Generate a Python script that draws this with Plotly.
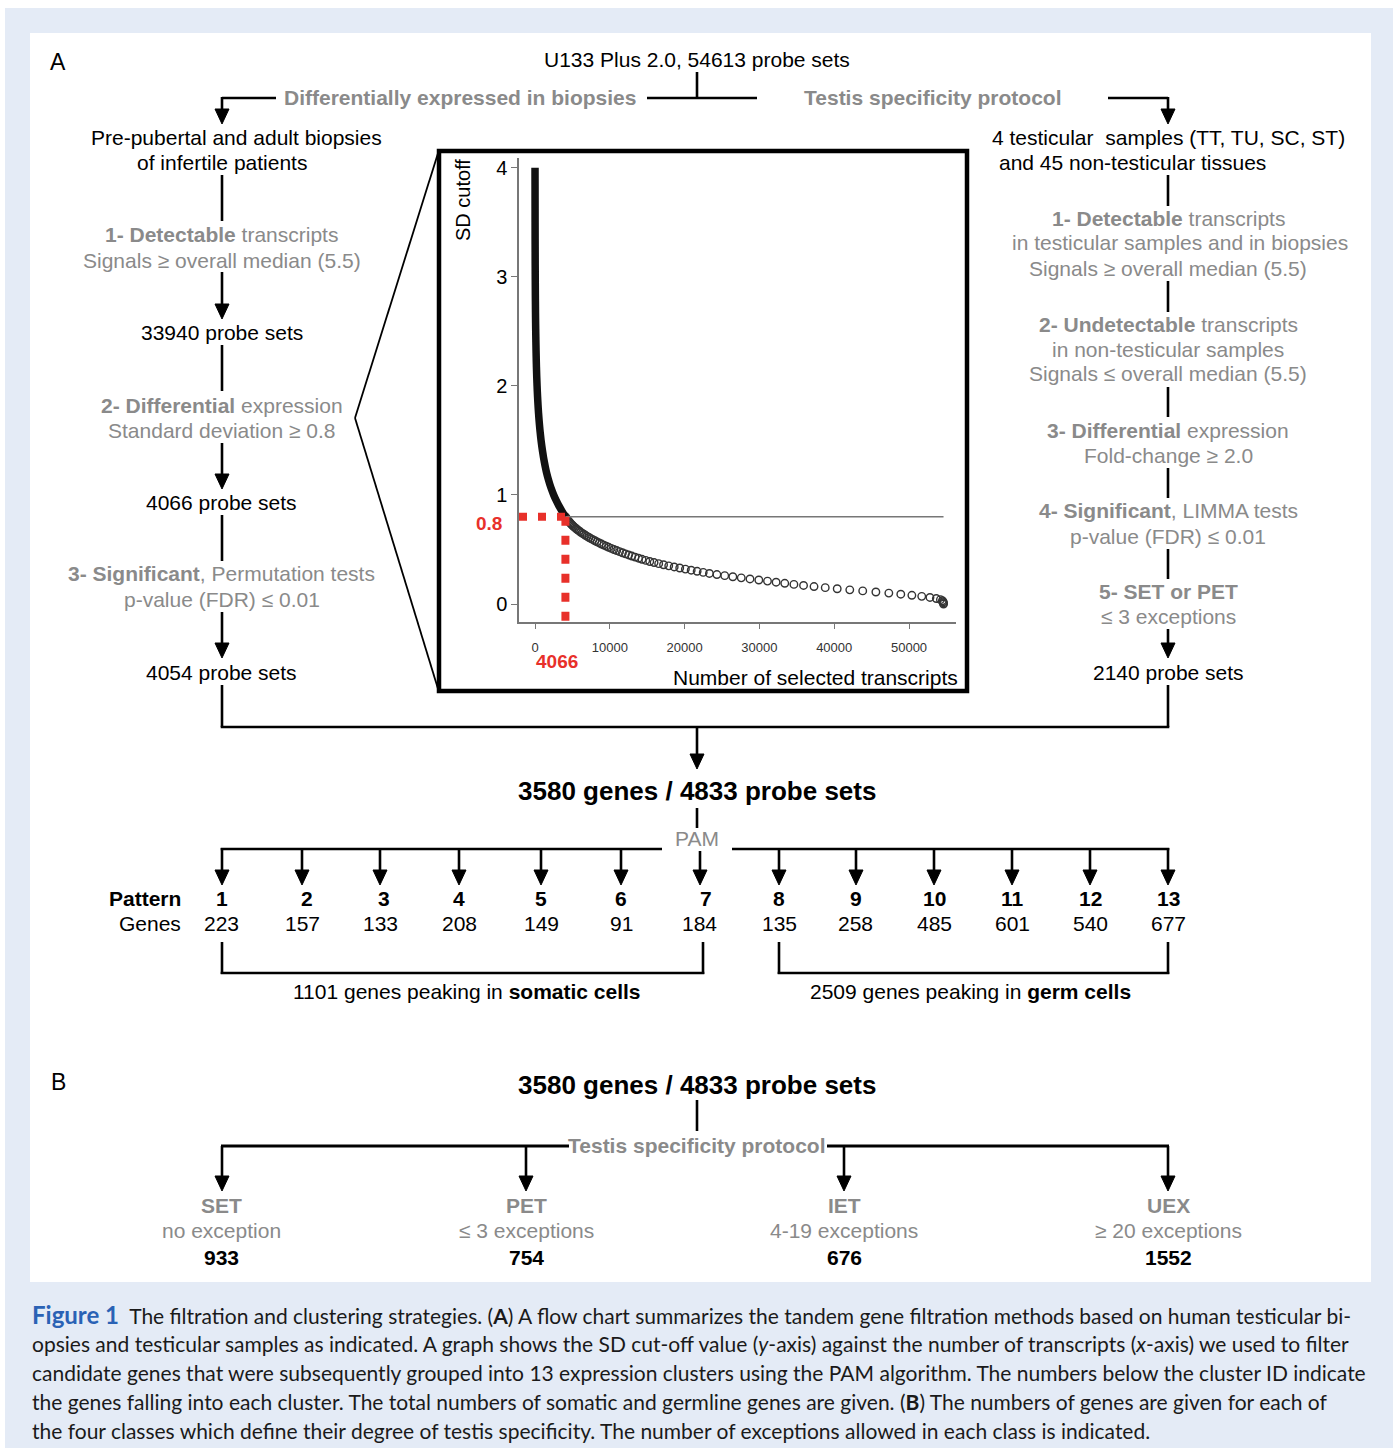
import plotly.graph_objects as go

W, H = 1393, 1456

# ------------------------------------------------------------------ data
total_probe_sets = 54613
sd_threshold = 0.8
n_at_threshold = 4066

# SD cut-off (0.01 steps, low range) and number of transcripts kept
sd_tail = [0.00, 0.01, 0.02, 0.03, 0.04, 0.05, 0.06, 0.07, 0.08, 0.09,
           0.10, 0.11, 0.12, 0.13, 0.14, 0.15, 0.16, 0.17, 0.18, 0.19,
           0.20, 0.21, 0.22, 0.23, 0.24, 0.25, 0.26, 0.27, 0.28, 0.29,
           0.30, 0.31, 0.32, 0.33, 0.34, 0.35, 0.36, 0.37, 0.38, 0.39,
           0.40, 0.41, 0.42, 0.43, 0.44, 0.45, 0.46, 0.47, 0.48, 0.49,
           0.50, 0.51, 0.52, 0.53, 0.54, 0.55, 0.56, 0.57, 0.58, 0.59,
           0.60, 0.61, 0.62, 0.63, 0.64, 0.65, 0.66, 0.67, 0.68, 0.69,
           0.70, 0.71, 0.72, 0.73, 0.74, 0.75, 0.76, 0.77, 0.78, 0.79, 0.80]
n_tail = [54613, 54605, 54570, 54460, 54200, 53650, 52800, 51700, 50380, 48900,
          47300, 45570, 43810, 42080, 40400, 38800, 37300, 35900, 34610, 33390,
          32230, 31080, 29920, 28740, 27572, 26447, 25362, 24317, 23317, 22487,
          21675, 20881, 20105, 19347, 18607, 17877, 17185, 16532, 15917, 15340,
          14802, 14302, 13837, 13384, 12943, 12514, 12097, 11692, 11300, 10920,
          10552, 10196, 9852, 9520, 9200, 8890, 8589, 8298, 8015, 7742,
          7478, 7224, 6978, 6742, 6515, 6297, 6088, 5888, 5698, 5517,
          5345, 5183, 5029, 4885, 4750, 4622, 4500, 4384, 4272, 4166, 4066]

# SD cut-off (0.05 steps, steep range)
sd_steep = [0.80, 0.85, 0.90, 0.95, 1.00, 1.05, 1.10, 1.15, 1.20, 1.25, 1.30,
            1.35, 1.40, 1.45, 1.50, 1.55, 1.60, 1.65, 1.70, 1.75, 1.80,
            1.85, 1.90, 1.95, 2.00, 2.05, 2.10, 2.15, 2.20, 2.25, 2.30,
            2.35, 2.40, 2.45, 2.50, 2.55, 2.60, 2.65, 2.70, 2.75, 2.80,
            2.85, 2.90, 2.95, 3.00, 3.05, 3.10, 3.15, 3.20, 3.25, 3.30,
            3.35, 3.40, 3.45, 3.50, 3.55, 3.60, 3.65, 3.70, 3.75, 3.80,
            3.85, 3.90, 3.95, 4.00]
n_steep = [4066, 3620, 3200, 2830, 2500, 2220, 1970, 1750, 1560, 1400, 1255,
           1125, 1010, 905, 812, 730, 655, 588, 528, 474, 426,
           383, 344, 309, 278, 250, 225, 202, 182, 164, 148,
           133, 120, 108, 97, 87, 78, 70, 63, 57, 51,
           46, 41, 37, 33, 30, 27, 24, 22, 20, 18,
           16, 14, 13, 12, 11, 10, 9, 8, 7, 6,
           5, 4, 3, 2]

x_ticks = [0, 10000, 20000, 30000, 40000, 50000]
y_ticks = [0, 1, 2, 3, 4]

left_counts = [33940, 4066, 4054]
right_count = 2140
merged_genes, merged_probes = 3580, 4833

pattern_ids = ["1", "2", "3", "4", "5", "6", "7", "8", "9", "10", "11", "12", "13"]
pattern_genes = [223, 157, 133, 208, 149, 91, 184, 135, 258, 485, 601, 540, 677]
somatic_total, germ_total = 1101, 2509

class_names = ["SET", "PET", "IET", "UEX"]
class_rules = ["no exception", "≤ 3 exceptions", "4-19 exceptions", "≥ 20 exceptions"]
class_counts = [933, 754, 676, 1552]

# ------------------------------------------------------------------ layout helpers
FONT = "Liberation Sans, Arial, sans-serif"
GRAY = "#8a8a8a"
RED = "#e8302a"


def X(px):
    return px / W


def Y(py):
    return 1 - py / H


shapes = []
annotations = []


def seg(x0, y0, x1, y1, width=2.6, color="black", dash=None):
    ln = dict(color=color, width=width)
    if dash:
        ln["dash"] = dash
    shapes.append(dict(type="line", xref="paper", yref="paper",
                       x0=X(x0), y0=Y(y0), x1=X(x1), y1=Y(y1), line=ln))


def arrow(x, y0, y1, hw=14, hh=15):
    seg(x, y0, x, y1 - hh + 2)
    path = (f"M {X(x - hw / 2)},{Y(y1 - hh)} L {X(x + hw / 2)},{Y(y1 - hh)} "
            f"L {X(x)},{Y(y1)} Z")
    shapes.append(dict(type="path", xref="paper", yref="paper", path=path,
                       fillcolor="black", line=dict(color="black", width=1)))


def txt(px, py, s, size=21, color="black", anchor="center", angle=0, family=FONT):
    annotations.append(dict(xref="paper", yref="paper", x=X(px), y=Y(py), text=s,
                            showarrow=False, xanchor=anchor, yanchor="middle",
                            textangle=angle,
                            font=dict(size=size, color=color, family=family)))


def rect(x0, y0, x1, y1, fill=None, lw=0, lc="black", layer="below"):
    shapes.append(dict(type="rect", xref="paper", yref="paper", layer=layer,
                       x0=X(x0), y0=Y(y1), x1=X(x1), y1=Y(y0),
                       fillcolor=fill if fill else "rgba(0,0,0,0)",
                       line=dict(width=lw, color=lc)))


# ------------------------------------------------------------------ backgrounds
rect(5, 8, 1393, 1448, fill="#e4ebf6")
rect(30, 33, 1371, 1282, fill="white")

# ------------------------------------------------------------------ panel A top
txt(58, 62, "A", size=23)
txt(697, 60, f"U133 Plus 2.0, {total_probe_sets} probe sets")
seg(697, 72, 697, 98)
seg(647, 98, 757, 98)
txt(460, 98, "<b>Differentially expressed in biopsies</b>", color=GRAY)
txt(933, 98, "<b>Testis specificity protocol</b>", color=GRAY)
seg(222, 98, 276, 98)
arrow(222, 97, 124)
seg(1108, 98, 1168, 98)
arrow(1168, 97, 124)

# left column
LX = 222
txt(LX + 14, 137, "Pre-pubertal and adult biopsies")
txt(LX, 162, "of infertile patients")
seg(LX, 175, LX, 221)
txt(LX, 235, "<b>1- Detectable</b> transcripts", color=GRAY)
txt(LX, 260, "Signals ≥ overall median (5.5)", color=GRAY)
arrow(LX, 272, 319)
txt(LX, 333, f"{left_counts[0]} probe sets")
seg(LX, 345, LX, 391)
txt(LX, 405, "<b>2- Differential</b> expression", color=GRAY)
txt(LX, 430, "Standard deviation ≥ 0.8", color=GRAY)
arrow(LX, 443, 489)
txt(LX, 502, f"{left_counts[1]} probe sets")
seg(LX, 515, LX, 561)
txt(LX, 574, "<b>3- Significant</b>, Permutation tests", color=GRAY)
txt(LX, 599, "p-value (FDR) ≤ 0.01", color=GRAY)
arrow(LX, 612, 658)
txt(LX, 672, f"{left_counts[2]} probe sets")

# right column
RX = 1168
txt(RX, 137, "4 testicular  samples (TT, TU, SC, ST)")
txt(997, 162, "and 45 non-testicular tissues", anchor="left")
seg(RX, 175, RX, 206)
txt(RX, 218, "<b>1- Detectable</b> transcripts", color=GRAY)
txt(RX + 12, 243, "in testicular samples and in biopsies", color=GRAY)
txt(RX, 268, "Signals ≥ overall median (5.5)", color=GRAY)
seg(RX, 281, RX, 312)
txt(RX, 324, "<b>2- Undetectable</b> transcripts", color=GRAY)
txt(RX, 349, "in non-testicular samples", color=GRAY)
txt(RX, 374, "Signals ≤ overall median (5.5)", color=GRAY)
seg(RX, 387, RX, 417)
txt(RX, 430, "<b>3- Differential</b> expression", color=GRAY)
txt(RX, 455, "Fold-change ≥ 2.0", color=GRAY)
seg(RX, 468, RX, 498)
txt(RX, 511, "<b>4- Significant</b>, LIMMA tests", color=GRAY)
txt(RX, 536, "p-value (FDR) ≤ 0.01", color=GRAY)
seg(RX, 549, RX, 579)
txt(RX, 591, "<b>5- SET or PET</b>", color=GRAY)
txt(RX, 616, "≤ 3 exceptions", color=GRAY)
arrow(RX, 629, 658)
txt(RX, 672, f"{right_count} probe sets")

# merge
seg(LX, 685, LX, 727)
seg(RX, 685, RX, 727)
seg(LX - 1.3, 727, RX + 1.3, 727)
arrow(697, 727, 769)
txt(697, 791, f"<b>{merged_genes} genes / {merged_probes} probe sets</b>", size=26)
seg(697, 808, 697, 828)
txt(697, 839, "PAM", color=GRAY)

# PAM clusters
arrow_x = [222, 302, 380, 459, 541, 621, 700, 779, 856, 934, 1012, 1090, 1168]
id_x = [222, 307, 384, 459, 541, 621, 706, 779, 856, 934, 1012, 1090, 1168]
seg(LX - 1.3, 849, 662, 849)
seg(732, 849, RX + 1.3, 849)
for ax_, ix, pid, g in zip(arrow_x, id_x, pattern_ids, pattern_genes):
    arrow(ax_, 848 if ax_ != 700 else 851, 885)
    txt(ix, 898, f"<b>{pid}</b>")
    txt(ax_, 923, f"{g}")
txt(183, 898, "<b>Pattern</b>", anchor="right")
txt(183, 923, "Genes", anchor="right")

# brackets
for xa, xb, label, xc in [(222, 703, f"{somatic_total} genes peaking in <b>somatic cells</b>", 467),
                          (779, 1168, f"{germ_total} genes peaking in <b>germ cells</b>", 970)]:
    seg(xa, 942, xa, 974)
    seg(xb, 942, xb, 974)
    seg(xa - 1.3, 973, xb + 1.3, 973)
    txt(xc, 991, label)

# ------------------------------------------------------------------ inset frame
rect(439, 151, 967, 691, lw=4.5, layer="above")
seg(355, 418, 439, 150, width=1.8)
seg(355, 418, 439, 692, width=1.8)

# ------------------------------------------------------------------ panel B
txt(58, 1082, "B", size=23)
txt(697, 1085, f"<b>{merged_genes} genes / {merged_probes} probe sets</b>", size=26)
seg(697, 1100, 697, 1131)
txt(697, 1145, "<b>Testis specificity protocol</b>", color=GRAY)
seg(221, 1146, 569, 1146, width=3.2)
seg(827, 1146, 1169, 1146, width=3.2)
class_x = [222, 526, 844, 1168]
for cx, nm, rule, cnt in zip(class_x, class_names, class_rules, class_counts):
    arrow(cx, 1146, 1191)
    txt(cx, 1205, f"<b>{nm}</b>", color=GRAY)
    txt(cx, 1230, rule, color=GRAY)
    txt(cx, 1257, f"<b>{cnt}</b>")

# ------------------------------------------------------------------ caption
CAP = "Lato, Liberation Sans, sans-serif"
cap_lines = [
    '<span style="color:#2a62b5;font-size:24px"><b>Figure 1</b></span>  The filtration and clustering strategies. (<b>A</b>) A flow chart summarizes the tandem gene filtration methods based on human testicular bi-',
    'opsies and testicular samples as indicated. A graph shows the SD cut-off value (<i>y</i>-axis) against the number of transcripts (<i>x</i>-axis) we used to filter',
    'candidate genes that were subsequently grouped into 13 expression clusters using the PAM algorithm. The numbers below the cluster ID indicate',
    'the genes falling into each cluster. The total numbers of somatic and germline genes are given. (<b>B</b>) The numbers of genes are given for each of',
    'the four classes which define their degree of testis specificity. The number of exceptions allowed in each class is indicated.',
]
for i, line in enumerate(cap_lines):
    txt(30, 1314 + 29 * i, line, size=21, color="#1a1a1a", anchor="left", family=CAP)

# ------------------------------------------------------------------ inset chart
x_range = [-2139, 56280]
y_range = [-0.165, 4.09]

fig = go.Figure()
fig.add_trace(go.Scatter(x=n_tail, y=sd_tail, mode="markers", hoverinfo="skip",
                         marker=dict(symbol="circle-open", size=7.5, color="#333",
                                     line=dict(width=1.4, color="#333"))))
fig.add_trace(go.Scatter(x=n_steep, y=sd_steep, mode="lines", hoverinfo="skip",
                         line=dict(color="#111", width=7.5, shape="spline")))

# threshold lines (data coordinates)
shapes.append(dict(type="line", xref="x", yref="y", x0=n_at_threshold, x1=total_probe_sets,
                   y0=sd_threshold, y1=sd_threshold, line=dict(color="#777", width=1.6)))
shapes.append(dict(type="line", xref="x", yref="y", x0=x_range[0], x1=n_at_threshold,
                   y0=sd_threshold, y1=sd_threshold,
                   line=dict(color=RED, width=8, dash="8px,11px")))
shapes.append(dict(type="line", xref="x", yref="y", x0=n_at_threshold, x1=n_at_threshold,
                   y0=sd_threshold, y1=y_range[0],
                   line=dict(color=RED, width=8, dash="9px,10px")))

txt(489, 523, f"<b>{sd_threshold}</b>", size=19, color=RED)
txt(557, 662, f"<b>{n_at_threshold}</b>", size=19, color=RED)
txt(463, 200, "SD cutoff", size=20, angle=-90)
txt(815, 677, "Number of selected transcripts", size=21)

fig.update_layout(
    width=W, height=H, autosize=False,
    margin=dict(l=0, r=0, t=0, b=0),
    paper_bgcolor="white", plot_bgcolor="rgba(0,0,0,0)",
    showlegend=False,
    shapes=shapes, annotations=annotations,
    xaxis=dict(domain=[X(519), X(956)], range=x_range, showgrid=False, zeroline=False,
               showline=True, linecolor="#777", linewidth=1.5,
               ticks="outside", ticklen=5, tickcolor="#777",
               tickvals=x_ticks, ticktext=[str(v) for v in x_ticks],
               tickfont=dict(size=13, color="#333", family=FONT),
               ticklabelstandoff=8, fixedrange=True),
    yaxis=dict(domain=[Y(622), Y(158)], range=y_range, showgrid=False, zeroline=False,
               showline=True, linecolor="#777", linewidth=1.5,
               ticks="outside", ticklen=6, tickcolor="#777",
               tickvals=y_ticks, ticktext=[str(v) for v in y_ticks],
               tickfont=dict(size=20, color="black", family=FONT), fixedrange=True),
)

fig.write_html("out.html", config={"displayModeBar": False},
               post_script="document.body.style.margin='0';document.body.style.overflow='hidden';")
